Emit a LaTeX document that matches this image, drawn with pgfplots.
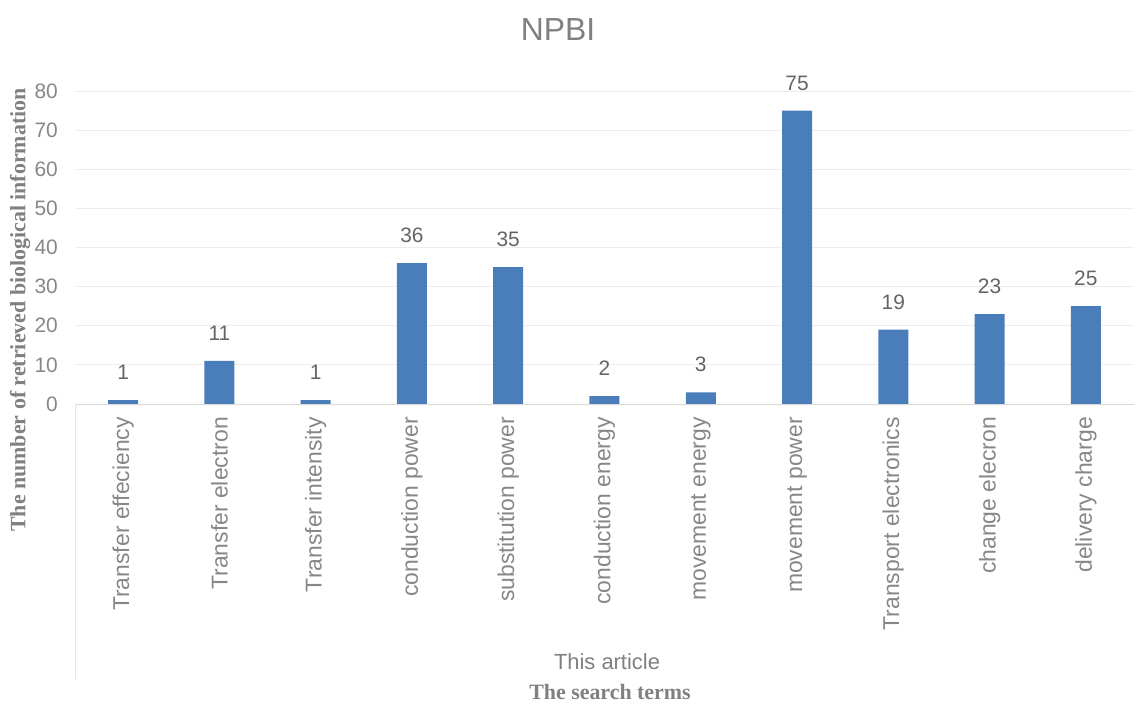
\documentclass[border=0pt]{standalone}
\usepackage{pgfplots}
\pgfplotsset{compat=1.18}
\usepackage{fontspec}
\setmainfont{Liberation Sans}
\newfontfamily\serifb{Liberation Serif}
\definecolor{barblue}{RGB}{74,126,187}
\definecolor{ticktxt}{RGB}{135,135,135}
\definecolor{valtxt}{RGB}{100,100,100}
\definecolor{labtxt}{RGB}{128,128,128}
\begin{document}
\begin{tikzpicture}
\begin{axis}[
  at={(75bp,302bp)}, anchor=south west,
  scale only axis, width=1059bp, height=313bp,
  xmin=-0.5, xmax=10.5, ymin=0, ymax=80,
  ytick={0,10,...,80},
  xtick={0,...,10},
  xticklabels={Transfer effeciency, Transfer electron, Transfer intensity, conduction power, substitution power, conduction energy, movement energy, movement power, Transport electronics, change elecron, delivery charge},
  ymajorgrids, major grid style={draw=black!7, line width=0.8bp},
  major tick length=0pt,
  axis x line*=bottom, axis y line*=left,
  x axis line style={draw=black!15, line width=0.8bp, -},
  y axis line style={draw=none},
  /pgf/number format/assume math mode=true,
  tick label style={font=\fontsize{21}{25}\selectfont, text=ticktxt},
  xticklabel style={rotate=90, anchor=east, inner sep=0pt, font=\fontsize{23}{27}\selectfont},
  yticklabel style={anchor=east, inner sep=0pt},
  xticklabel shift=13bp,
  yticklabel shift=17bp,
  clip=false,
]
\addplot[ybar, bar width=30bp, fill=barblue, draw=none,
  nodes near coords,
  every node near coord/.append style={font=\fontsize{21}{25}\selectfont, text=valtxt, anchor=south, inner sep=0pt, yshift=20bp}]
  coordinates {(0,1) (1,11) (2,1) (3,36) (4,35) (5,2) (6,3) (7,75) (8,19) (9,23) (10,25)};
\end{axis}
\draw[draw=black!10, line width=0.8bp] (75bp,302bp) -- (75bp,27bp);
\node[text=labtxt, font=\fontsize{32}{36}\selectfont] at (558bp,676bp) {NPBI};
\node[text=labtxt, font=\fontsize{22}{26}\selectfont] at (607bp,44bp) {This article};
\node[text=labtxt, font=\serifb\bfseries\fontsize{22}{26}\selectfont] at (610bp,14bp) {The search terms};
\node[text=labtxt, rotate=90, font=\serifb\bfseries\fontsize{22}{26}\selectfont] at (20bp,396bp) {The number of retrieved biological information};
\pgfresetboundingbox
\path (0,0) rectangle (1136bp,706bp);
\end{tikzpicture}
\end{document}
